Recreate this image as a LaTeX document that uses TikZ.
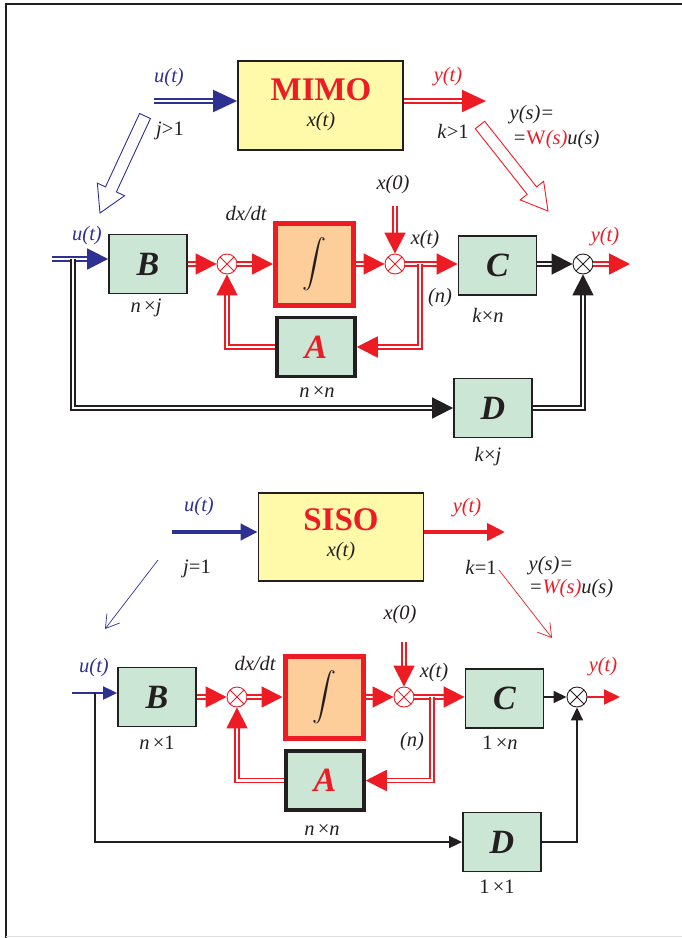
\documentclass[tikz,border=0pt]{standalone}
\usepackage{fontspec}
\setmainfont{Liberation Serif}
\usepackage{graphicx}
\usetikzlibrary{arrows.meta,calc}

\begin{document}
\begin{tikzpicture}[x=1pt, y=-1pt, line join=miter,
  lbl/.style={font=\fontsize{20.5}{22}\selectfont\itshape, text=ink, inner sep=0pt},
  ttl/.style={font=\fontsize{33}{33}\selectfont\bfseries, text=myred, inner sep=0pt},
  gblock/.style={draw=ink, line width=1.8pt, fill=bgreen, minimum width=78pt, minimum height=59pt,
    font=\fontsize{34}{34}\selectfont\bfseries\itshape, text=ink},
  ablock/.style={gblock, line width=3.5pt, text=myred},
  intblock/.style={draw=myred, line width=5pt, fill=peach, minimum width=78pt, minimum height=82pt, text=ink},
  sumnode/.style={circle, draw=#1, fill=white, line width=0.9pt, minimum size=20pt, inner sep=0pt,
    path picture={\draw[#1, line width=0.9pt] (path picture bounding box.north west) -- (path picture bounding box.south east)
      (path picture bounding box.south west) -- (path picture bounding box.north east);}},
  dbl/.style={draw=#1, line width=1.8pt, double=white, double distance=2.2pt, -{Triangle[length=21pt,width=21pt]}},
  sgl/.style={draw=#1, line width=1.6pt, -{Triangle[length=13pt,width=12pt]}}]
  \definecolor{myblue}{RGB}{46,49,146}
  \definecolor{myred}{RGB}{237,28,36}
  \definecolor{ink}{RGB}{35,31,32}
  \definecolor{bgreen}{RGB}{204,230,214}
  \definecolor{yfill}{RGB}{255,249,170}
  \definecolor{peach}{RGB}{253,206,153}
  \useasboundingbox (0,0) rectangle (682,938);
  \draw[ink, line width=1.5pt] (6,938) -- (6,4) -- (682,4);
  \draw[gray!25, line width=1pt] (6,936) -- (682,936);

  % MIMO
  \node[draw=ink, line width=1.8pt, fill=yfill, minimum width=165pt, minimum height=89pt] (mimo) at (320.5,105.5) {};
  \node[ttl] (tmimo) at (321,90) {MIMO};
  \node[lbl] (xm) at (321,122) {x(t)};
  \coordinate (uin) at (154,101);
  \coordinate (yout) at (486,101);
  \draw[dbl=myblue, line width=2pt, double distance=2.5pt, -{Triangle[length=24pt,width=22pt]}] (uin) -- (uin -| mimo.west);
  \draw[dbl=myred, line width=2pt, double distance=2.5pt, -{Triangle[length=24pt,width=22pt]}] (yout -| mimo.east) -- (yout);
  \node[lbl, text=myblue] (lu) at (169,78) {u(t)};
  \node[lbl] (lj) at (170,131) {j\textup{>1}};
  \node[lbl, text=myred] (ly) at (448,77) {y(t)};
  \node[lbl] (lk) at (453,131) {k\textup{>1}};
  \node[lbl] (lys) at (532,115) {y(s)=};
  \node[lbl] (lw) at (556,140) {=\textcolor{myred}{\textup{W}(s)}u(s)};
  \foreach \col/\tx/\ty/\px/\py in {myblue/145/116/100/213, myred/480/125/548/211}{
    \coordinate (T) at (\tx,\ty);
    \coordinate (P) at (\px,\py);
    \coordinate (H) at ($(P)!26pt!(T)$);
    \draw[\col, line width=0.9pt] ($(T)!6pt!90:(P)$) -- ($(H)!6pt!-90:(T)$) -- ($(H)!15pt!-90:(T)$) -- (P)
      -- ($(H)!15pt!90:(T)$) -- ($(H)!6pt!90:(T)$) -- ($(T)!6pt!-90:(P)$) -- cycle;
  }

  \node[gblock] (B1) at (148,264) {B};
  \node[sumnode=myred] (s1) at (227,264) {};
  \node[intblock] (I1) at (314.5,264) {\scalebox{2.4}{$\displaystyle\int$}};
  \node[sumnode=myred] (s2) at (395,264) {};
  \node[gblock] (C1) at (497.5,265.5) {C};
  \node[sumnode=ink] (s3) at (583,264) {};
  \node[ablock] (A1) at (316,347) {A};
  \node[gblock] (D1) at (493,408) {D};
  \coordinate (u1) at (52,259);
  \coordinate (fd1) at (73,259);
  \coordinate (x01) at (395,206);
  \coordinate (br1) at (420,264);
  \coordinate (y1) at (630,264);
  \draw[dbl=myblue] (u1) -- (u1 -| B1.west);
  \draw[dbl=myred] (B1) -- (s1);
  \draw[dbl=myred] (s1) -- (I1);
  \draw[dbl=myred] (I1) -- (s2);
  \draw[dbl=myred] (x01) -- (s2);
  \draw[dbl=myred] (s2) -- (s2 -| C1.west);
  \draw[dbl=myred] (br1) |- (A1);
  \draw[dbl=myred] (A1) -| (s1);
  \draw[dbl=ink] (s3 -| C1.east) -- (s3);
  \draw[dbl=ink] (fd1) |- (D1);
  \draw[dbl=ink] (D1) -| (s3);
  \draw[dbl=myred] (s3) -- (y1);
  \node[lbl, text=myblue] (lu1) at (87,236) {u(t)};
  \node[lbl] (lnj) at (146,308) {n\,\textup{×}j};
  \node[lbl] (ld1) at (246,213) {dx/dt};
  \node[lbl] (lx01) at (393,185) {x(0)};
  \node[lbl] (lx1) at (425,240) {x(t)};
  \node[lbl] (ln1) at (440,298) {(n)};
  \node[lbl] (lkn) at (488,315) {k\textup{×}n};
  \node[lbl, text=myred] (ly1) at (605,237) {y(t)};
  \node[lbl] (lnn1) at (317,392) {n\,\textup{×}n};
  \node[lbl] (lkj) at (488,457) {k\textup{×}j};

  % SISO
  \node[draw=ink, line width=1.8pt, fill=yfill, minimum width=165pt, minimum height=88pt] (siso) at (341,537) {};
  \node[ttl] (tsiso) at (341,520) {SISO};
  \node[lbl] (xs) at (341,552) {x(t)};
  \coordinate (uin2) at (172,532);
  \coordinate (yout2) at (505,532);
  \draw[myblue, line width=4pt, -{Triangle[length=17pt,width=16pt]}] (uin2) -- (uin2 -| siso.west);
  \draw[myred, line width=4pt, -{Triangle[length=18pt,width=17pt]}] (yout2 -| siso.east) -- (yout2);
  \node[lbl, text=myblue] (lu2) at (199,507) {u(t)};
  \node[lbl] (lj2) at (197,569) {j\textup{=1}};
  \node[lbl, text=myred] (ly2) at (467,508) {y(t)};
  \node[lbl] (lk2) at (481,567) {k\textup{=1}};
  \node[lbl] (lys2) at (551,566) {y(s)=};
  \node[lbl] (lw2) at (571,589) {=\textcolor{myred}{W(s)}u(s)};
  \coordinate (ta2) at (158,560);
  \coordinate (pa2) at (105,629);
  \coordinate (tb2) at (499,570);
  \coordinate (pb2) at (552,638);
  \draw[myblue, line width=0.7pt, -{Straight Barb[length=13pt,width=16pt]}] (ta2) -- (pa2);
  \draw[myred, line width=0.7pt, -{Straight Barb[length=13pt,width=16pt]}] (tb2) -- (pb2);

  \node[gblock] (B2) at (157,697) {B};
  \node[sumnode=myred] (s4) at (237,697) {};
  \node[intblock] (I2) at (324,697) {\scalebox{2.4}{$\displaystyle\int$}};
  \node[sumnode=myred] (s5) at (404,697) {};
  \node[gblock] (C2) at (504.5,698.5) {C};
  \node[sumnode=ink] (s6) at (577,697) {};
  \node[ablock] (A2) at (325,780.5) {A};
  \node[gblock] (D2) at (502,842) {D};
  \coordinate (u2) at (72,693);
  \coordinate (fd2) at (95,693);
  \coordinate (x02) at (404,642);
  \coordinate (br2) at (432,697);
  \coordinate (y2) at (620,697);
  \draw[sgl=myblue, line width=2pt, -{Triangle[length=14pt,width=13pt]}] (u2) -- (u2 -| B2.west);
  \draw[dbl=myred] (B2) -- (s4);
  \draw[dbl=myred] (s4) -- (I2);
  \draw[dbl=myred] (I2) -- (s5);
  \draw[dbl=myred] (x02) -- (s5);
  \draw[dbl=myred] (s5) -- (s5 -| C2.west);
  \draw[dbl=myred] (br2) |- (A2);
  \draw[dbl=myred] (A2) -| (s4);
  \draw[sgl=ink] (s6 -| C2.east) -- (s6);
  \draw[sgl=ink] (fd2) |- (D2);
  \draw[sgl=ink] (D2) -| (s6);
  \draw[sgl=myred, line width=2pt, -{Triangle[length=16pt,width=15pt]}] (s6) -- (y2);
  \node[lbl, text=myblue] (lu3) at (94,668) {u(t)};
  \node[lbl] (ln1b) at (157,743) {n\,\textup{×1}};
  \node[lbl] (ld2) at (255,663) {dx/dt};
  \node[lbl] (lx02) at (400,615) {x(0)};
  \node[lbl] (lx2) at (434,673) {x(t)};
  \node[lbl] (ln2) at (412,742) {(n)};
  \node[lbl] (l1n) at (500,743) {\textup{1\,×}n};
  \node[lbl, text=myred] (ly3) at (603,667) {y(t)};
  \node[lbl] (lnn2) at (322,830) {n\,\textup{×}n};
  \node[lbl] (l11) at (497,887) {\textup{1\,×1}};
\end{tikzpicture}
\end{document}
